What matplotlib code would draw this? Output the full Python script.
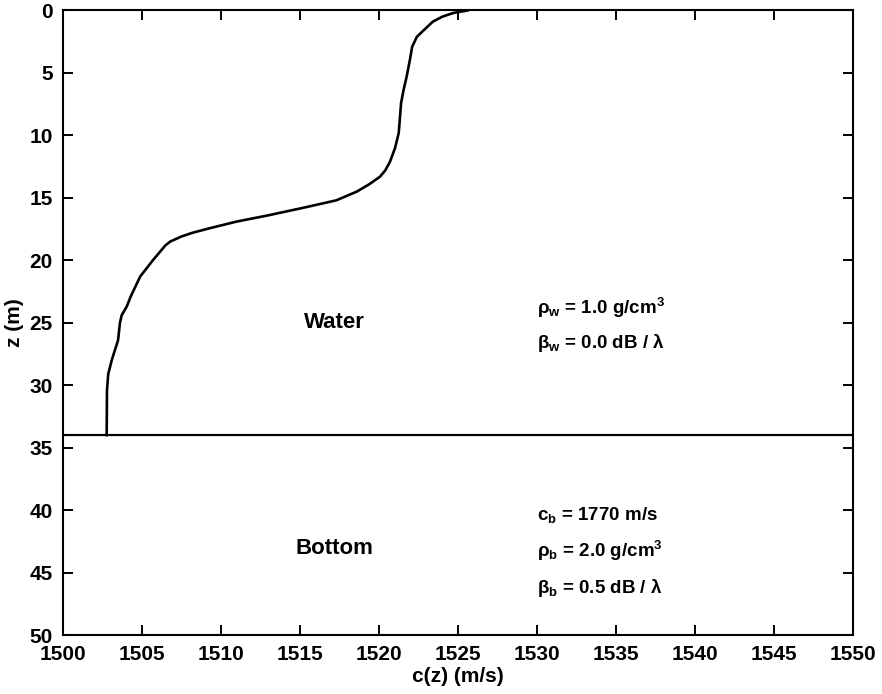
import numpy as np
import matplotlib
matplotlib.use("Agg")
import matplotlib.pyplot as plt

plt.rcParams['font.family'] = ['Liberation Sans', 'DejaVu Sans']
plt.rcParams['mathtext.default'] = 'regular'

# sound speed profile c(z)
depth = [0.0, 0.2, 0.5, 0.9, 1.5, 2.1, 2.9, 4.0, 5.3, 6.4, 7.4, 9.8, 11.0,
         12.1, 12.8, 13.3, 13.9, 14.5, 15.2, 15.8, 16.4, 16.9, 17.4, 17.8,
         18.1, 18.5, 18.8, 20.0, 21.3, 22.9, 23.7, 24.4, 25.0, 26.4, 27.2,
         28.0, 29.1, 30.4, 34.0]
speed = [1525.6, 1524.7, 1524.0, 1523.4, 1522.9, 1522.4, 1522.1, 1521.95,
         1521.75, 1521.55, 1521.4, 1521.25, 1521.02, 1520.7, 1520.4, 1520.07,
         1519.4, 1518.6, 1517.3, 1515.2, 1513.0, 1511.0, 1509.4, 1508.2,
         1507.5, 1506.8, 1506.5, 1505.7, 1504.9, 1504.3, 1504.05, 1503.73,
         1503.62, 1503.5, 1503.3, 1503.1, 1502.88, 1502.8, 1502.78]
bottom_depth = 34.0

water_props = [r'ρ$_w$ = 1.0 g/cm$^3$', r'β$_w$ = 0.0 dB / λ']
water_z = [23.8, 26.6]
bottom_props = [r'c$_b$ = 1770 m/s', r'ρ$_b$ = 2.0 g/cm$^3$', r'β$_b$ = 0.5 dB / λ']
bottom_z = [40.4, 43.3, 46.2]

fig = plt.figure(figsize=(8.82, 6.94), dpi=100)
ax = fig.add_axes([0.0711, 0.085, 0.8964, 0.8999])

ax.plot(speed, depth, color='black', lw=1.9)
ax.axhline(bottom_depth, color='black', lw=1.6)

ax.text(1517.2, 25.0, 'Water', fontsize=16, fontweight='bold', ha='center', va='center')
ax.text(1517.2, 43.1, 'Bottom', fontsize=16, fontweight='bold', ha='center', va='center')
for s, z in zip(water_props, water_z):
    ax.text(1530.0, z, s, fontsize=13.5, fontweight='bold', ha='left', va='center')
for s, z in zip(bottom_props, bottom_z):
    ax.text(1530.0, z, s, fontsize=13.5, fontweight='bold', ha='left', va='center')

ax.set_xlim(1500, 1550)
ax.set_ylim(50, 0)
ax.set_xticks(np.arange(1500, 1551, 5))
ax.set_yticks(np.arange(0, 51, 5))
ax.tick_params(direction='in', length=7, width=1.4, top=True, right=True,
               labelsize=15)
ax.tick_params(axis='x', pad=7)
ax.tick_params(axis='y', pad=7)
for lab in ax.get_xticklabels() + ax.get_yticklabels():
    lab.set_fontweight('bold')
for sp in ax.spines.values():
    sp.set_linewidth(1.5)

ax.set_xlabel('c(z) (m/s)', fontsize=15, fontweight='bold', labelpad=2)
ax.set_ylabel('z (m)', fontsize=15, fontweight='bold', labelpad=4)

fig.savefig('out.png', dpi=100)
